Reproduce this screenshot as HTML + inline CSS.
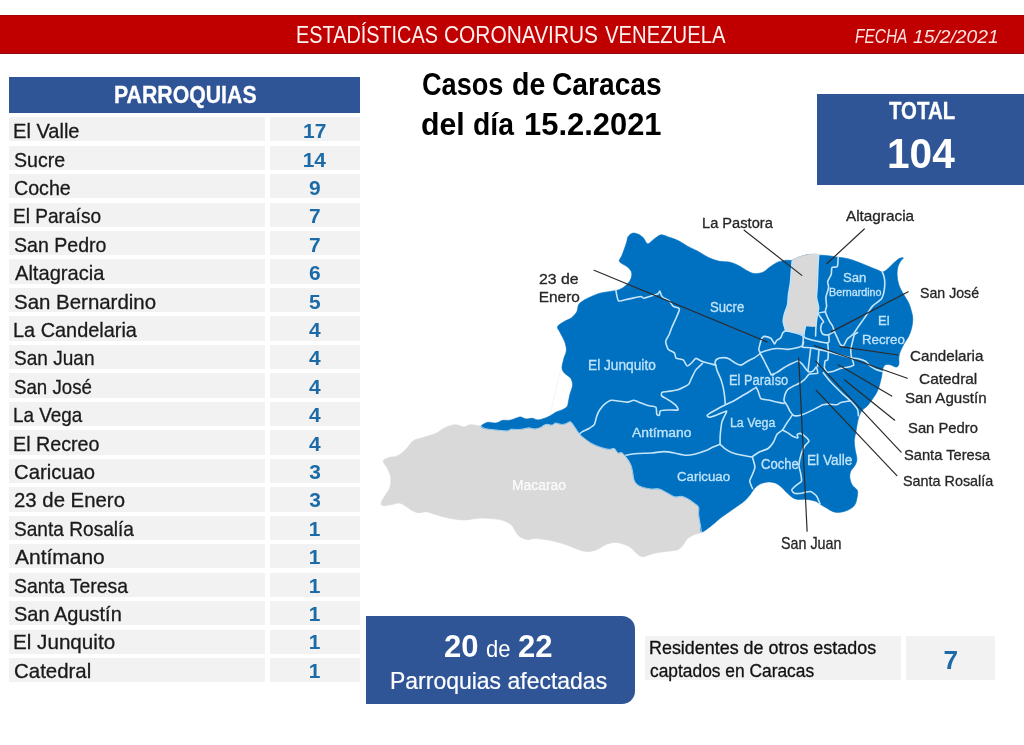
<!DOCTYPE html>
<html lang="es"><head><meta charset="utf-8"><title>Estadísticas Coronavirus Venezuela</title>
<style>
html,body{margin:0;padding:0;background:#fff;}
body{width:1024px;height:745px;position:relative;overflow:hidden;font-family:"Liberation Sans", sans-serif;}
.b{position:absolute;}
.th{background:#2f5597;}
.rw{height:24.3px;background:#f2f2f2;}
.c1{left:9px;width:255.6px;}
.c2{left:269.6px;width:90px;}
.t{position:absolute;white-space:nowrap;line-height:1;transform-origin:0 0;}
svg{position:absolute;left:0;top:0;}
</style></head>
<body>
<header id="header">
<div class="b" style="left:0;top:15px;width:1024px;height:38.7px;background:#c00000;box-sizing:border-box;border-top:1px solid #ac0005;border-bottom:1px solid #8a0a10"></div>
<div class="t" style="font-size:24.27px;font-weight:400;font-style:normal;color:#fff1ef;left:296.12px;top:23.31px;transform:scaleX(0.8182);">ESTADÍSTICAS</div>
<div class="t" style="font-size:24.27px;font-weight:400;font-style:normal;color:#fff1ef;left:444.22px;top:23.36px;transform:scaleX(0.8612);">CORONAVIRUS</div>
<div class="t" style="font-size:24.27px;font-weight:400;font-style:normal;color:#fff1ef;left:605.34px;top:23.31px;transform:scaleX(0.8347);">VENEZUELA</div>
<div class="t" style="font-size:19.33px;font-weight:400;font-style:italic;color:#fde3df;left:854.85px;top:26.64px;transform:scaleX(0.8000);">FECHA</div>
<div class="t" style="font-size:18.46px;font-weight:400;font-style:italic;color:#fde3df;left:913.48px;top:28.17px;transform:scaleX(1.0437);">15/2/2021</div>
</header>
<section id="titulo">
<div class="t" style="font-size:31.1px;font-weight:700;font-style:normal;color:#000000;left:422.31px;top:68.87px;transform:scaleX(0.8727);">Casos</div>
<div class="t" style="font-size:31.1px;font-weight:700;font-style:normal;color:#000000;left:511.99px;top:68.67px;transform:scaleX(0.9176);">de</div>
<div class="t" style="font-size:31.1px;font-weight:700;font-style:normal;color:#000000;left:551.82px;top:68.87px;transform:scaleX(0.9063);">Caracas</div>
<div class="t" style="font-size:31.1px;font-weight:700;font-style:normal;color:#000000;left:421.38px;top:108.97px;transform:scaleX(0.9735);">del</div>
<div class="t" style="font-size:31.1px;font-weight:700;font-style:normal;color:#000000;left:473.26px;top:108.97px;transform:scaleX(0.9097);">día</div>
<div class="t" style="font-size:31.1px;font-weight:700;font-style:normal;color:#000000;left:524.31px;top:108.97px;transform:scaleX(0.9941);">15.2.2021</div>
</section>
<section id="total">
<div class="b" style="left:817.4px;top:94px;width:206.6px;height:90.6px;background:#2f5597"></div>
<div class="t" style="font-size:23.4px;font-weight:700;font-style:normal;color:#ffffff;-webkit-text-stroke:0.3px #ffffff;left:888.58px;top:99.59px;transform:scaleX(0.8722);">TOTAL</div>
<div class="t" style="font-size:42.59px;font-weight:700;font-style:normal;color:#ffffff;left:887.38px;top:131.85px;transform:scaleX(0.9544);">104</div>
</section>
<section id="tabla">
<div class="b th" style="left:9px;top:76.8px;width:350.6px;height:35.8px"></div>
<div class="b rw c1" style="top:117.10px"></div><div class="b rw c2" style="top:117.10px"></div>
<div class="b rw c1" style="top:145.57px"></div><div class="b rw c2" style="top:145.57px"></div>
<div class="b rw c1" style="top:174.04px"></div><div class="b rw c2" style="top:174.04px"></div>
<div class="b rw c1" style="top:202.51px"></div><div class="b rw c2" style="top:202.51px"></div>
<div class="b rw c1" style="top:230.98px"></div><div class="b rw c2" style="top:230.98px"></div>
<div class="b rw c1" style="top:259.45px"></div><div class="b rw c2" style="top:259.45px"></div>
<div class="b rw c1" style="top:287.92px"></div><div class="b rw c2" style="top:287.92px"></div>
<div class="b rw c1" style="top:316.39px"></div><div class="b rw c2" style="top:316.39px"></div>
<div class="b rw c1" style="top:344.86px"></div><div class="b rw c2" style="top:344.86px"></div>
<div class="b rw c1" style="top:373.33px"></div><div class="b rw c2" style="top:373.33px"></div>
<div class="b rw c1" style="top:401.80px"></div><div class="b rw c2" style="top:401.80px"></div>
<div class="b rw c1" style="top:430.27px"></div><div class="b rw c2" style="top:430.27px"></div>
<div class="b rw c1" style="top:458.74px"></div><div class="b rw c2" style="top:458.74px"></div>
<div class="b rw c1" style="top:487.21px"></div><div class="b rw c2" style="top:487.21px"></div>
<div class="b rw c1" style="top:515.68px"></div><div class="b rw c2" style="top:515.68px"></div>
<div class="b rw c1" style="top:544.15px"></div><div class="b rw c2" style="top:544.15px"></div>
<div class="b rw c1" style="top:572.62px"></div><div class="b rw c2" style="top:572.62px"></div>
<div class="b rw c1" style="top:601.09px"></div><div class="b rw c2" style="top:601.09px"></div>
<div class="b rw c1" style="top:629.56px"></div><div class="b rw c2" style="top:629.56px"></div>
<div class="b rw c1" style="top:658.03px"></div><div class="b rw c2" style="top:658.03px"></div>
<div class="t" style="font-size:23.26px;font-weight:700;font-style:normal;color:#ffffff;-webkit-text-stroke:0.3px #ffffff;left:113.63px;top:83.51px;transform:scaleX(0.9147);">PARROQUIAS</div>
<div class="t" style="font-size:20.78px;font-weight:400;font-style:normal;color:#1a1a1a;-webkit-text-stroke:0.3px #1a1a1a;left:13.31px;top:120.61px;transform:scaleX(0.9660);">El Valle</div>
<div class="t" style="font-size:20.93px;font-weight:700;font-style:normal;color:#1c6ba6;left:303.10px;top:120.58px;">17</div>
<div class="t" style="font-size:20.78px;font-weight:400;font-style:normal;color:#1a1a1a;-webkit-text-stroke:0.3px #1a1a1a;left:13.72px;top:149.61px;transform:scaleX(0.9435);">Sucre</div>
<div class="t" style="font-size:20.93px;font-weight:700;font-style:normal;color:#1c6ba6;left:302.67px;top:149.68px;">14</div>
<div class="t" style="font-size:20.78px;font-weight:400;font-style:normal;color:#1a1a1a;-webkit-text-stroke:0.3px #1a1a1a;left:14.02px;top:178.41px;transform:scaleX(0.9459);">Coche</div>
<div class="t" style="font-size:20.93px;font-weight:700;font-style:normal;color:#1c6ba6;left:309.07px;top:177.68px;">9</div>
<div class="t" style="font-size:20.78px;font-weight:400;font-style:normal;color:#1a1a1a;-webkit-text-stroke:0.3px #1a1a1a;left:13.39px;top:205.81px;transform:scaleX(0.9190);">El Paraíso</div>
<div class="t" style="font-size:20.93px;font-weight:700;font-style:normal;color:#1c6ba6;left:308.98px;top:205.78px;">7</div>
<div class="t" style="font-size:20.78px;font-weight:400;font-style:normal;color:#1a1a1a;-webkit-text-stroke:0.3px #1a1a1a;left:13.72px;top:235.01px;transform:scaleX(0.9423);">San Pedro</div>
<div class="t" style="font-size:20.93px;font-weight:700;font-style:normal;color:#1c6ba6;left:308.97px;top:235.08px;">7</div>
<div class="t" style="font-size:20.78px;font-weight:400;font-style:normal;color:#1a1a1a;-webkit-text-stroke:0.3px #1a1a1a;left:15.00px;top:262.61px;transform:scaleX(0.9680);">Altagracia</div>
<div class="t" style="font-size:20.93px;font-weight:700;font-style:normal;color:#1c6ba6;left:309.10px;top:262.58px;">6</div>
<div class="t" style="font-size:20.78px;font-weight:400;font-style:normal;color:#1a1a1a;-webkit-text-stroke:0.3px #1a1a1a;left:13.63px;top:291.61px;transform:scaleX(0.9846);">San Bernardino</div>
<div class="t" style="font-size:20.93px;font-weight:700;font-style:normal;color:#1c6ba6;left:308.91px;top:291.68px;">5</div>
<div class="t" style="font-size:20.78px;font-weight:400;font-style:normal;color:#1a1a1a;-webkit-text-stroke:0.3px #1a1a1a;left:13.06px;top:320.41px;transform:scaleX(0.9584);">La Candelaria</div>
<div class="t" style="font-size:20.93px;font-weight:700;font-style:normal;color:#1c6ba6;left:308.91px;top:320.48px;">4</div>
<div class="t" style="font-size:20.78px;font-weight:400;font-style:normal;color:#1a1a1a;-webkit-text-stroke:0.3px #1a1a1a;left:14.08px;top:347.81px;transform:scaleX(0.9181);">San Juan</div>
<div class="t" style="font-size:20.93px;font-weight:700;font-style:normal;color:#1c6ba6;left:308.98px;top:347.78px;">4</div>
<div class="t" style="font-size:20.78px;font-weight:400;font-style:normal;color:#1a1a1a;-webkit-text-stroke:0.3px #1a1a1a;left:13.82px;top:377.01px;transform:scaleX(0.8991);">San José</div>
<div class="t" style="font-size:20.93px;font-weight:700;font-style:normal;color:#1c6ba6;left:308.91px;top:377.08px;">4</div>
<div class="t" style="font-size:20.78px;font-weight:400;font-style:normal;color:#1a1a1a;-webkit-text-stroke:0.3px #1a1a1a;left:13.41px;top:404.61px;transform:scaleX(0.9101);">La Vega</div>
<div class="t" style="font-size:20.93px;font-weight:700;font-style:normal;color:#1c6ba6;left:308.98px;top:404.58px;">4</div>
<div class="t" style="font-size:20.78px;font-weight:400;font-style:normal;color:#1a1a1a;-webkit-text-stroke:0.3px #1a1a1a;left:13.49px;top:433.81px;transform:scaleX(0.9480);">El Recreo</div>
<div class="t" style="font-size:20.93px;font-weight:700;font-style:normal;color:#1c6ba6;left:308.91px;top:433.68px;">4</div>
<div class="t" style="font-size:20.78px;font-weight:400;font-style:normal;color:#1a1a1a;-webkit-text-stroke:0.3px #1a1a1a;left:13.94px;top:462.41px;transform:scaleX(0.9760);">Caricuao</div>
<div class="t" style="font-size:20.93px;font-weight:700;font-style:normal;color:#1c6ba6;left:309.24px;top:461.78px;">3</div>
<div class="t" style="font-size:20.78px;font-weight:400;font-style:normal;color:#1a1a1a;-webkit-text-stroke:0.3px #1a1a1a;left:14.02px;top:489.81px;transform:scaleX(0.9807);">23 de Enero</div>
<div class="t" style="font-size:20.93px;font-weight:700;font-style:normal;color:#1c6ba6;left:309.23px;top:489.78px;">3</div>
<div class="t" style="font-size:20.78px;font-weight:400;font-style:normal;color:#1a1a1a;-webkit-text-stroke:0.3px #1a1a1a;left:13.78px;top:519.01px;transform:scaleX(0.9197);">Santa Rosalía</div>
<div class="t" style="font-size:20.93px;font-weight:700;font-style:normal;color:#1c6ba6;left:308.65px;top:519.08px;">1</div>
<div class="t" style="font-size:20.78px;font-weight:400;font-style:normal;color:#1a1a1a;-webkit-text-stroke:0.3px #1a1a1a;left:15.00px;top:546.61px;transform:scaleX(1.0102);">Antímano</div>
<div class="t" style="font-size:20.93px;font-weight:700;font-style:normal;color:#1c6ba6;left:308.73px;top:546.58px;">1</div>
<div class="t" style="font-size:20.78px;font-weight:400;font-style:normal;color:#1a1a1a;-webkit-text-stroke:0.3px #1a1a1a;left:13.74px;top:575.61px;transform:scaleX(0.9347);">Santa Teresa</div>
<div class="t" style="font-size:20.93px;font-weight:700;font-style:normal;color:#1c6ba6;left:308.65px;top:575.68px;">1</div>
<div class="t" style="font-size:20.78px;font-weight:400;font-style:normal;color:#1a1a1a;-webkit-text-stroke:0.3px #1a1a1a;left:13.68px;top:604.41px;transform:scaleX(0.9622);">San Agustín</div>
<div class="t" style="font-size:20.93px;font-weight:700;font-style:normal;color:#1c6ba6;left:308.65px;top:604.48px;">1</div>
<div class="t" style="font-size:20.78px;font-weight:400;font-style:normal;color:#1a1a1a;-webkit-text-stroke:0.3px #1a1a1a;left:13.26px;top:631.81px;transform:scaleX(0.9940);">El Junquito</div>
<div class="t" style="font-size:20.93px;font-weight:700;font-style:normal;color:#1c6ba6;left:308.73px;top:631.78px;">1</div>
<div class="t" style="font-size:20.78px;font-weight:400;font-style:normal;color:#1a1a1a;-webkit-text-stroke:0.3px #1a1a1a;left:13.92px;top:661.01px;transform:scaleX(0.9842);">Catedral</div>
<div class="t" style="font-size:20.93px;font-weight:700;font-style:normal;color:#1c6ba6;left:308.65px;top:661.08px;">1</div>
</section>
<section id="mapa">
<svg width="1024" height="745" viewBox="0 0 1024 745">
<path d="M481.0,426.2C478.5,425.6 473.1,424.6 470.2,424.7C467.3,424.8 466.3,426.9 463.8,426.9C461.3,426.9 458.4,424.5 455.2,424.7C452.0,424.9 447.6,426.5 444.4,427.9C441.2,429.3 439.5,431.7 435.9,433.3C432.3,434.9 426.8,436.4 423.0,437.6C419.2,438.9 416.2,438.8 413.3,440.8C410.4,442.8 408.5,446.9 405.8,449.4C403.1,451.9 400.1,454.5 397.2,455.9C394.3,457.3 390.9,456.7 388.6,457.6C386.3,458.5 383.4,459.4 383.2,461.2C383.0,463.0 386.2,466.0 387.5,468.7C388.8,471.4 390.3,474.1 390.7,477.3C391.1,480.5 390.8,484.9 389.7,488.1C388.6,491.3 385.7,494.2 384.3,496.7C382.9,499.2 381.3,501.6 381.1,503.1C380.9,504.6 381.6,505.4 383.2,505.7C384.8,506.0 388.0,505.2 390.7,504.8C393.4,504.4 396.8,502.9 399.3,503.1C401.8,503.4 403.7,505.1 405.8,506.3C407.9,507.6 410.1,509.5 412.2,510.6C414.3,511.7 416.4,512.6 418.7,512.8C421.0,513.0 423.7,511.5 426.2,511.7C428.7,511.9 430.7,513.0 433.7,513.9C436.7,514.8 440.8,516.2 444.4,517.1C448.0,518.0 451.6,518.7 455.2,519.2C458.8,519.7 462.0,520.1 465.9,519.9C469.8,519.7 474.5,518.4 478.8,518.2C483.1,518.0 487.8,518.2 491.7,518.6C495.6,519.0 499.2,519.3 502.4,520.3C505.6,521.3 508.9,522.8 511.0,524.6C513.1,526.4 513.9,529.0 515.3,531.0C516.7,533.0 517.6,535.0 519.6,536.4C521.6,537.8 524.7,539.2 527.2,539.6C529.7,540.0 531.7,538.6 534.7,538.6C537.7,538.6 541.8,539.1 545.4,539.6C549.0,540.1 552.5,540.9 556.1,541.8C559.7,542.7 563.3,543.8 566.9,545.0C570.5,546.2 574.4,548.2 577.6,549.3C580.8,550.4 583.3,551.3 586.2,551.5C589.1,551.7 592.5,551.0 594.8,550.4C597.1,549.8 598.1,549.0 600.0,548.0C601.9,547.0 603.9,545.2 606.4,544.3C608.9,543.4 612.3,542.5 615.2,542.5C618.1,542.5 621.3,543.4 623.9,544.3C626.5,545.2 629.0,546.3 631.0,547.8C633.0,549.2 634.5,551.5 636.2,553.0C638.0,554.5 639.7,556.1 641.5,556.6C643.3,557.1 644.4,556.3 646.8,555.7C649.1,555.1 652.1,553.7 655.6,553.0C659.1,552.3 664.1,551.9 667.9,551.3C671.7,550.7 675.8,550.7 678.4,549.5C681.0,548.3 682.2,546.0 683.7,544.3C685.2,542.5 685.4,540.6 687.2,539.0C689.0,537.4 691.9,535.8 694.3,534.6C696.7,533.4 700.6,533.6 701.6,532.0C702.6,530.4 700.9,527.8 700.4,524.9C699.9,522.0 699.0,517.3 698.7,514.4C698.4,511.5 699.3,509.1 698.7,507.3C698.1,505.5 696.7,505.1 695.1,503.8C693.5,502.5 691.2,500.6 689.0,499.4C686.8,498.2 684.4,496.8 682.0,496.4C679.6,496.0 677.2,497.3 674.9,496.8C672.5,496.3 670.5,494.6 667.9,493.3C665.3,492.0 662.0,489.6 659.1,488.9C656.2,488.2 653.5,489.3 650.3,488.9C647.1,488.4 642.4,487.5 639.8,486.2C637.2,484.9 635.7,483.3 634.5,481.0C633.3,478.7 633.3,474.8 632.7,472.2C632.1,469.6 631.9,467.4 631.0,465.2C630.1,463.0 629.0,461.1 627.5,459.0C626.0,456.9 623.8,453.9 622.2,452.9C620.6,451.9 619.1,453.6 617.8,452.9C616.5,452.2 615.8,449.1 614.3,448.5C612.8,447.9 611.4,449.6 609.0,449.3C606.6,449.1 602.8,448.0 599.9,447.0C597.0,446.0 594.2,444.9 591.7,443.5C589.2,442.1 587.0,440.4 584.9,438.8C582.8,437.2 581.0,435.8 579.4,434.0C577.8,432.2 576.5,429.6 575.3,427.8C574.0,426.0 572.8,424.0 571.9,423.0C571.0,422.0 570.8,421.6 569.8,421.7C568.8,421.8 567.1,423.2 565.7,423.7C564.3,424.1 563.3,424.5 561.6,424.4C559.9,424.3 557.1,422.9 555.5,423.0C553.9,423.1 553.6,424.9 552.0,425.1C550.4,425.3 547.9,423.9 545.9,424.4C543.9,424.8 541.6,427.1 539.7,427.8C537.8,428.6 536.1,428.9 534.3,428.9C532.5,428.9 530.8,427.8 528.8,427.8C526.8,427.9 524.0,428.9 522.0,429.2C520.0,429.5 518.3,429.5 516.5,429.5C514.7,429.5 512.5,429.0 511.0,429.2C509.5,429.4 509.5,430.6 507.6,430.8C505.7,431.0 502.0,430.5 499.4,430.3C496.8,430.1 494.3,429.8 491.9,429.5C489.5,429.2 486.8,429.1 485.0,428.5C483.2,427.9 483.5,426.8 481.0,426.2Z" fill="#d9d9d9" stroke="#d9d9d9" stroke-width="0.6" stroke-linejoin="round"/>
<path d="M481.0,426.2C481.5,425.2 485.3,422.8 487.8,422.3C490.3,421.8 493.5,423.3 496.0,423.0C498.5,422.7 500.5,420.8 502.8,420.3C505.1,419.9 507.3,420.7 509.6,420.3C511.9,419.9 514.7,418.6 516.5,418.0C518.3,417.4 519.0,416.8 520.6,416.9C522.2,417.0 524.2,418.7 526.1,418.9C528.0,419.1 530.3,418.0 532.2,418.2C534.1,418.4 535.8,419.8 537.7,419.9C539.6,419.9 541.6,419.2 543.8,418.5C546.0,417.8 548.7,416.6 550.7,415.5C552.8,414.4 554.1,413.1 556.1,412.1C558.1,411.1 561.2,410.3 563.0,409.4C564.8,408.5 566.2,407.9 567.1,406.6C568.0,405.3 567.9,403.9 568.4,401.8C568.9,399.8 569.2,397.0 569.9,394.3C570.6,391.6 572.4,388.1 572.5,385.5C572.6,382.9 572.1,380.4 570.8,378.4C569.5,376.3 566.1,374.9 564.6,373.2C563.1,371.4 562.1,370.2 562.0,367.9C561.9,365.5 563.0,362.0 563.7,359.1C564.4,356.2 566.2,353.2 566.4,350.3C566.5,347.4 565.6,344.4 564.6,341.5C563.6,338.6 561.4,335.2 560.2,332.7C559.0,330.2 556.9,328.5 557.6,326.6C558.3,324.7 562.3,322.8 564.6,321.3C566.9,319.8 569.6,319.4 571.6,317.8C573.6,316.2 575.7,313.8 576.9,311.6C578.1,309.4 577.5,306.5 578.7,304.6C579.9,302.7 581.9,301.5 583.9,300.2C585.9,298.9 588.4,297.9 591.0,296.7C593.6,295.5 596.6,294.1 599.8,293.2C603.0,292.3 607.1,292.0 610.3,291.4C613.5,290.8 616.5,290.7 619.1,289.7C621.7,288.7 624.2,287.1 626.1,285.3C628.0,283.5 629.9,281.0 630.8,278.9C631.7,276.8 632.0,274.6 631.6,272.7C631.2,270.8 629.9,269.1 628.1,267.5C626.4,265.9 622.6,264.3 621.1,263.1C619.6,261.9 619.1,261.7 619.3,260.4C619.4,259.1 620.8,258.1 622.0,255.2C623.2,252.3 625.4,246.0 626.4,242.9C627.4,239.8 627.1,238.3 628.1,236.7C629.1,235.1 630.9,233.6 632.5,233.2C634.1,232.8 636.0,233.4 637.8,234.1C639.6,234.8 641.5,236.0 643.1,237.6C644.7,239.2 645.9,243.3 647.5,243.7C649.1,244.1 651.0,241.4 652.7,240.2C654.5,238.9 656.4,237.1 658.0,236.2C659.6,235.3 660.4,234.7 662.4,234.9C664.4,235.1 667.5,236.6 670.3,237.6C673.1,238.6 676.2,239.6 679.1,241.1C682.0,242.6 684.7,244.7 687.9,246.4C691.1,248.2 694.9,249.7 698.4,251.6C701.9,253.5 705.5,256.2 709.0,257.8C712.5,259.4 716.0,260.6 719.5,261.3C723.0,262.0 726.9,261.5 730.1,262.2C733.3,262.9 736.0,264.2 738.9,265.7C741.8,267.2 745.1,269.7 747.7,271.0C750.3,272.3 752.1,273.5 754.7,273.6C757.3,273.8 760.9,273.1 763.5,271.9C766.1,270.7 768.1,268.2 770.5,266.6C772.9,265.0 775.2,263.2 777.6,262.2C780.0,261.2 782.3,260.7 784.6,260.4C786.9,260.1 790.1,260.5 791.6,260.4C793.1,260.2 791.6,260.2 793.4,259.5C795.2,258.8 799.3,256.9 802.2,256.0C805.1,255.1 808.4,254.4 811.0,254.3C813.6,254.2 816.4,255.0 818.0,255.2C819.6,255.3 818.6,255.1 820.6,255.2C822.6,255.3 827.4,255.7 830.3,256.0C833.2,256.4 835.3,256.9 838.2,257.3C841.1,257.8 844.5,257.9 847.9,258.7C851.3,259.5 854.9,260.9 858.4,262.2C861.9,263.5 865.8,265.3 869.0,266.6C872.2,267.9 875.5,269.2 877.8,270.1C880.1,271.0 881.2,272.2 883.0,271.9C884.8,271.6 886.5,269.8 888.3,268.3C890.1,266.8 891.8,264.7 893.6,263.1C895.4,261.5 897.3,259.6 898.9,258.7C900.5,257.8 903.0,257.4 903.3,257.8C903.6,258.2 901.5,259.8 900.6,261.3C899.7,262.8 898.6,264.4 898.0,266.6C897.4,268.8 897.0,271.4 897.1,274.5C897.2,277.6 897.9,281.8 898.9,285.0C899.9,288.2 901.7,290.9 903.3,293.8C904.9,296.7 907.1,299.7 908.5,302.6C909.9,305.5 910.8,308.7 911.5,311.4C912.2,314.1 912.8,316.1 912.8,318.9C912.8,321.7 912.3,325.3 911.6,328.3C910.9,331.3 909.8,334.1 908.5,336.7C907.2,339.3 905.4,341.3 904.1,343.7C902.8,346.1 901.5,348.6 900.6,350.8C899.7,353.0 899.2,354.7 898.9,356.9C898.6,359.1 899.3,362.2 898.9,363.9C898.5,365.6 897.7,367.0 896.2,367.1C894.7,367.2 891.9,365.2 890.1,364.8C888.4,364.4 886.9,364.2 885.7,364.8C884.5,365.4 883.7,366.1 883.0,368.3C882.3,370.5 882.2,374.3 881.3,378.0C880.4,381.7 879.3,386.8 877.8,390.3C876.3,393.8 874.3,396.5 872.5,399.1C870.7,401.7 869.0,404.2 867.2,406.1C865.5,408.0 863.3,408.9 862.0,410.5C860.7,412.1 860.0,413.9 859.3,415.8C858.6,417.7 858.2,419.2 857.6,422.0C857.0,424.8 856.3,429.4 855.8,432.5C855.2,435.6 854.4,437.7 854.3,440.5C854.2,443.3 854.7,446.2 855.1,449.3C855.5,452.4 856.9,456.4 856.9,459.0C856.9,461.6 856.1,463.1 855.1,465.2C854.1,467.2 851.6,469.1 850.7,471.3C849.8,473.5 849.6,476.0 849.9,478.3C850.2,480.6 851.2,483.3 852.5,485.4C853.8,487.4 856.7,488.4 857.4,490.6C858.1,492.8 857.4,496.1 856.9,498.6C856.4,501.1 855.8,503.7 854.3,505.6C852.8,507.5 850.5,508.9 848.1,510.0C845.8,511.1 842.7,512.0 840.2,512.3C837.7,512.6 835.4,512.4 833.2,511.7C831.0,511.0 829.0,509.4 827.0,508.2C825.0,507.0 822.8,505.9 820.9,504.7C819.0,503.5 818.0,502.1 815.6,501.2C813.2,500.3 809.7,499.7 806.8,499.4C803.9,499.1 800.4,499.7 798.0,499.4C795.6,499.1 794.5,498.7 792.7,497.7C791.0,496.7 789.5,495.2 787.5,493.3C785.5,491.4 782.6,488.0 780.4,486.2C778.2,484.4 776.3,483.4 774.3,482.7C772.2,482.0 770.3,481.8 768.1,481.9C765.9,482.0 763.3,482.6 761.1,483.6C758.9,484.6 756.7,486.2 754.9,488.0C753.1,489.8 752.1,492.1 750.5,494.2C748.9,496.2 747.3,498.4 745.3,500.3C743.2,502.2 740.9,503.7 738.2,505.6C735.6,507.5 732.3,509.6 729.4,511.7C726.5,513.8 723.8,515.4 720.6,517.9C717.4,520.4 713.3,524.4 710.1,526.7C706.9,529.1 703.2,532.3 701.6,532.0C700.0,531.7 700.9,527.8 700.4,524.9C699.9,522.0 699.0,517.3 698.7,514.4C698.4,511.5 699.3,509.1 698.7,507.3C698.1,505.5 696.7,505.1 695.1,503.8C693.5,502.5 691.2,500.6 689.0,499.4C686.8,498.2 684.4,496.8 682.0,496.4C679.6,496.0 677.2,497.3 674.9,496.8C672.5,496.3 670.5,494.6 667.9,493.3C665.3,492.0 662.0,489.6 659.1,488.9C656.2,488.2 653.5,489.3 650.3,488.9C647.1,488.4 642.4,487.5 639.8,486.2C637.2,484.9 635.7,483.3 634.5,481.0C633.3,478.7 633.3,474.8 632.7,472.2C632.1,469.6 631.9,467.4 631.0,465.2C630.1,463.0 629.0,461.1 627.5,459.0C626.0,456.9 623.8,453.9 622.2,452.9C620.6,451.9 619.1,453.6 617.8,452.9C616.5,452.2 615.8,449.1 614.3,448.5C612.8,447.9 611.4,449.6 609.0,449.3C606.6,449.1 602.8,448.0 599.9,447.0C597.0,446.0 594.2,444.9 591.7,443.5C589.2,442.1 587.0,440.4 584.9,438.8C582.8,437.2 581.0,435.8 579.4,434.0C577.8,432.2 576.5,429.6 575.3,427.8C574.0,426.0 572.8,424.0 571.9,423.0C571.0,422.0 570.8,421.6 569.8,421.7C568.8,421.8 567.1,423.2 565.7,423.7C564.3,424.1 563.3,424.5 561.6,424.4C559.9,424.3 557.1,422.9 555.5,423.0C553.9,423.1 553.6,424.9 552.0,425.1C550.4,425.3 547.9,423.9 545.9,424.4C543.9,424.8 541.6,427.1 539.7,427.8C537.8,428.6 536.1,428.9 534.3,428.9C532.5,428.9 530.8,427.8 528.8,427.8C526.8,427.9 524.0,428.9 522.0,429.2C520.0,429.5 518.3,429.5 516.5,429.5C514.7,429.5 512.5,429.0 511.0,429.2C509.5,429.4 509.5,430.6 507.6,430.8C505.7,431.0 502.0,430.5 499.4,430.3C496.8,430.1 494.3,429.8 491.9,429.5C489.5,429.2 486.8,429.1 485.0,428.5C483.2,427.9 480.5,427.2 481.0,426.2Z" fill="#0070c0" stroke="#0070c0" stroke-width="0.6" stroke-linejoin="round"/>
<path d="M792.5,260.4C792.6,260.2 792.2,260.1 793.4,259.5C794.6,258.9 800.0,256.6 802.2,256.0C804.4,255.3 809.0,254.4 811.0,254.3C813.0,254.2 817.2,252.9 818.0,255.2C818.8,257.5 817.3,268.8 817.1,272.7C816.9,276.6 816.8,283.7 816.6,286.8C816.5,289.9 815.7,294.7 815.9,297.3C816.1,299.9 818.0,305.3 818.0,307.9C818.0,310.5 816.5,316.1 816.2,318.4C815.9,320.7 816.8,325.3 815.4,326.3C814.0,327.3 806.9,325.3 805.4,326.3C803.9,327.3 804.2,333.7 803.6,334.6C803.0,335.5 801.4,333.8 800.4,333.5C799.4,333.2 797.5,333.0 795.7,332.6C793.9,332.2 787.6,331.6 786.1,330.3C784.6,329.0 783.9,323.9 783.7,322.0C783.5,320.1 784.1,317.1 784.6,314.9C785.1,312.7 787.6,307.0 788.1,304.4C788.6,301.8 788.7,296.4 789.0,293.8C789.3,291.2 790.5,285.9 790.8,283.3C791.1,280.7 791.4,275.4 791.6,272.7C791.8,269.9 792.4,262.8 792.5,261.3C792.6,259.8 792.4,260.6 792.5,260.4Z" fill="#d9d9d9" stroke="#d9d9d9" stroke-width="0.8"/>
<g fill="none" stroke="#c4e5fa" stroke-width="1.6" stroke-linejoin="round" stroke-linecap="round">
<path d="M481.0,426.2C481.7,426.6 483.2,427.9 485.0,428.5C486.8,429.1 489.5,429.2 491.9,429.5C494.3,429.8 496.8,430.1 499.4,430.3C502.0,430.5 505.7,431.0 507.6,430.8C509.5,430.6 509.5,429.4 511.0,429.2C512.5,429.0 514.7,429.5 516.5,429.5C518.3,429.5 520.0,429.5 522.0,429.2C524.0,428.9 526.8,427.9 528.8,427.8C530.8,427.8 532.5,428.9 534.3,428.9C536.1,428.9 537.8,428.6 539.7,427.8C541.6,427.1 543.9,424.8 545.9,424.4C547.9,423.9 550.4,425.3 552.0,425.1C553.6,424.9 553.9,423.1 555.5,423.0C557.1,422.9 559.9,424.3 561.6,424.4C563.3,424.5 564.3,424.1 565.7,423.7C567.1,423.2 568.8,421.8 569.8,421.7C570.8,421.6 571.0,422.0 571.9,423.0C572.8,424.0 574.0,426.0 575.3,427.8C576.5,429.6 577.8,432.2 579.4,434.0C581.0,435.8 582.8,437.2 584.9,438.8C587.0,440.4 589.2,442.1 591.7,443.5C594.2,444.9 597.0,446.0 599.9,447.0C602.8,448.0 606.6,449.1 609.0,449.3C611.4,449.6 612.8,447.9 614.3,448.5C615.8,449.1 616.5,452.2 617.8,452.9C619.1,453.6 620.6,451.9 622.2,452.9C623.8,453.9 626.0,456.9 627.5,459.0C629.0,461.1 630.1,463.0 631.0,465.2C631.9,467.4 632.1,469.6 632.7,472.2C633.3,474.8 633.3,478.7 634.5,481.0C635.7,483.3 637.2,484.9 639.8,486.2C642.4,487.5 647.1,488.4 650.3,488.9C653.5,489.3 656.2,488.2 659.1,488.9C662.0,489.6 665.3,492.0 667.9,493.3C670.5,494.6 672.5,496.3 674.9,496.8C677.2,497.3 679.6,496.0 682.0,496.4C684.4,496.8 686.8,498.2 689.0,499.4C691.2,500.6 693.5,502.5 695.1,503.8C696.7,505.1 698.1,505.5 698.7,507.3C699.3,509.1 698.4,511.5 698.7,514.4C699.0,517.3 699.9,522.0 700.4,524.9C700.9,527.8 701.4,530.8 701.6,532.0" stroke-width="0.9" opacity="0.85"/>
<path d="M615.8,289.9C616.1,291.0 617.3,300.0 618.5,300.9C619.7,301.8 625.9,299.5 628.1,299.1C630.3,298.7 638.8,296.6 640.4,296.5C642.0,296.4 642.8,298.3 644.0,298.2C645.2,298.1 651.3,296.0 652.7,295.6C654.1,295.2 657.3,294.2 658.0,293.8C658.7,293.4 659.4,291.0 659.8,291.2C660.1,291.4 661.1,294.9 661.5,295.6C661.9,296.3 663.4,297.7 664.2,298.2C665.0,298.7 668.5,300.1 669.4,300.9C670.3,301.7 672.1,305.4 673.0,306.1C673.9,306.8 677.6,307.6 678.2,307.9C678.8,308.2 679.6,308.5 679.4,309.5C679.2,310.5 677.0,316.0 676.2,317.8C675.4,319.6 672.5,325.8 671.8,327.5C671.1,329.2 669.8,333.1 669.2,334.5C668.6,335.9 665.8,340.0 665.7,341.5C665.6,343.0 667.3,348.2 668.2,349.3C669.1,350.4 673.6,352.0 674.4,352.9C675.2,353.8 675.2,357.4 676.1,358.1C677.0,358.8 682.1,359.1 683.2,359.9C684.3,360.7 686.3,365.7 687.2,366.0C688.1,366.3 691.1,363.3 692.0,362.5C692.9,361.7 695.0,358.5 696.0,358.4C697.0,358.3 701.1,361.1 702.5,361.6C703.9,362.1 708.2,363.0 709.5,363.4C710.8,363.8 715.1,365.0 715.7,365.2"/>
<path d="M702.5,363.4C701.8,364.1 696.6,368.8 695.5,370.4C694.4,372.0 691.8,377.8 691.1,379.2C690.4,380.6 689.7,383.4 688.4,384.5C687.1,385.6 680.0,389.1 677.9,389.8C675.8,390.5 668.9,391.2 667.3,391.5C665.7,391.8 662.7,392.0 662.1,392.4C661.5,392.8 661.0,395.1 661.7,395.9C662.4,396.7 667.7,399.3 669.1,400.3C670.5,401.3 675.2,404.6 676.1,405.6C677.0,406.6 678.8,409.6 677.9,410.0C677.0,410.4 669.1,409.9 667.3,410.0C665.5,410.1 661.1,410.4 660.3,410.9C659.5,411.4 659.8,414.9 659.4,415.3C659.0,415.7 657.1,415.2 656.8,414.4C656.4,413.6 656.8,408.2 655.9,407.3C655.0,406.4 649.5,406.0 648.0,405.6C646.5,405.2 642.4,403.5 641.0,403.0C639.6,402.5 635.2,400.4 633.9,400.3C632.6,400.2 629.2,402.0 627.8,402.1C626.4,402.2 621.6,401.4 619.9,401.2C618.2,401.0 612.7,399.9 611.1,400.3C609.5,400.7 605.3,403.7 604.1,404.7C602.9,405.7 600.1,409.3 599.3,410.5C598.5,411.7 597.0,415.5 596.5,416.9C596.0,418.3 595.2,423.2 594.4,424.4C593.6,425.6 590.1,427.8 588.9,428.5C587.7,429.2 583.1,431.3 582.1,431.9C581.1,432.4 579.7,433.8 579.4,434.0"/>
<path d="M715.7,365.2C715.6,364.9 714.9,363.0 715.0,362.4C715.1,361.8 716.3,359.5 717.1,359.0C717.9,358.5 722.0,357.6 723.2,357.6C724.4,357.6 728.2,358.4 729.4,359.0C730.6,359.6 734.3,362.5 735.5,363.1C736.7,363.7 739.8,365.3 741.0,365.1C742.2,364.9 746.5,361.8 747.9,361.0C749.3,360.2 753.5,358.4 754.7,357.6C755.9,356.9 759.7,353.9 760.2,353.5"/>
<path d="M760.2,352.8C760.1,352.5 758.8,350.4 758.8,349.4C758.8,348.4 759.9,344.4 760.2,343.2C760.5,342.0 761.7,338.5 762.2,337.8C762.7,337.1 764.0,336.3 764.9,336.4C765.8,336.5 770.1,337.8 771.1,338.5C772.1,339.2 774.0,343.7 774.5,343.9C775.0,344.1 776.0,341.1 776.6,340.5C777.2,339.9 780.1,338.6 780.7,337.8C781.3,337.1 782.2,333.7 782.7,333.0C783.2,332.3 784.8,330.9 786.1,330.9C787.4,330.9 794.1,332.5 795.7,333.0C797.3,333.5 801.8,334.9 802.5,335.7C803.2,336.4 803.3,339.5 803.2,340.5C803.1,341.5 802.6,345.2 801.9,346.0C801.1,346.8 797.1,347.7 795.7,348.0C794.3,348.3 788.9,349.3 787.5,349.4C786.1,349.5 783.4,348.8 782.0,348.7C780.6,348.6 775.4,348.5 773.8,348.7C772.2,348.9 767.0,350.4 765.6,350.8C764.2,351.2 760.7,352.6 760.2,352.8"/>
<path d="M715.7,365.2C715.8,365.7 716.6,369.1 717.1,370.6C717.6,372.1 720.5,378.1 721.2,380.2C721.9,382.2 723.5,388.7 723.9,391.1C724.3,393.5 725.2,402.8 725.3,404.1"/>
<path d="M756.1,387.4C754.9,388.1 746.2,393.5 744.0,394.8C741.8,396.1 736.3,399.5 734.5,400.5C732.7,401.5 727.8,403.6 726.0,404.5C724.2,405.4 718.0,408.6 716.4,409.5C714.8,410.4 710.5,412.7 709.6,413.3C708.7,413.9 707.0,415.1 707.0,415.5C707.0,415.9 708.7,417.3 709.6,417.3C710.5,417.3 714.7,415.8 716.4,415.2C718.1,414.6 725.7,410.9 726.5,411.0C727.3,411.1 725.0,414.9 724.5,416.0C724.0,417.1 722.3,420.7 721.9,421.9C721.5,423.1 721.1,426.9 720.9,428.4C720.7,429.9 720.2,435.6 720.1,437.2C720.0,438.8 720.1,443.6 720.1,444.3"/>
<path d="M756.1,387.4C756.3,387.8 757.6,390.0 758.1,391.1C758.6,392.2 759.8,397.7 760.8,398.6C761.8,399.5 766.8,399.7 768.4,400.0C770.0,400.3 775.0,401.7 776.6,402.0C778.2,402.3 783.4,403.3 784.1,403.4"/>
<path d="M626.0,455.2C627.1,455.0 635.0,453.7 637.5,453.5C640.0,453.3 648.9,453.2 651.5,453.0C654.1,452.8 661.5,451.6 663.8,451.6C666.1,451.6 672.3,452.6 674.4,453.0C676.5,453.4 682.8,455.1 684.9,455.2C687.0,455.3 693.4,454.5 695.5,454.0C697.6,453.5 704.2,451.3 706.0,450.6C707.8,449.9 711.6,447.6 713.0,447.0C714.4,446.4 719.4,444.6 720.1,444.3"/>
<path d="M720.1,444.3C720.7,444.8 724.6,448.4 725.9,449.3C727.2,450.2 731.1,452.3 732.9,452.9C734.7,453.5 741.6,455.1 743.5,455.5C745.4,455.9 750.4,456.9 751.4,457.0C752.4,457.1 752.4,456.5 753.2,456.0C754.0,455.5 757.8,452.8 759.3,452.0C760.8,451.2 766.7,449.5 768.1,448.5C769.5,447.5 772.5,443.7 773.4,442.3C774.3,440.9 776.0,435.6 776.9,434.4C777.8,433.2 781.5,431.1 782.5,430.0C783.5,428.9 785.4,425.2 786.4,423.7C787.4,422.2 791.9,415.8 792.5,414.9"/>
<path d="M752.3,456.8C752.6,457.8 754.9,465.1 754.9,466.9C754.9,468.7 752.8,473.4 752.3,474.8C751.8,476.2 749.7,479.6 749.7,481.0C749.7,482.4 752.2,487.8 752.5,488.5"/>
<path d="M782.5,430.0C783.0,430.3 786.5,432.0 787.5,432.6C788.5,433.2 791.7,435.7 792.7,436.2C793.8,436.7 797.6,438.1 798.0,437.9C798.4,437.7 796.8,434.8 797.1,434.4C797.4,434.0 799.6,433.1 800.6,433.5C801.6,433.9 806.0,437.1 806.8,437.9C807.6,438.7 809.1,440.6 808.9,441.4C808.7,442.2 805.7,444.7 805.0,445.8C804.3,446.9 802.1,451.0 801.5,452.9C800.9,454.8 799.0,463.2 798.9,465.2C798.8,467.2 800.3,471.5 800.6,473.1C800.9,474.7 801.9,479.8 801.5,481.0C801.1,482.2 797.2,484.5 796.2,485.4C795.2,486.3 792.0,489.0 791.8,489.8C791.6,490.6 793.5,492.9 794.5,493.3C795.5,493.7 799.9,493.5 801.5,493.3C803.1,493.1 808.8,491.2 810.3,491.5C811.8,491.8 815.5,494.7 816.5,495.9C817.5,497.1 819.6,503.0 820.0,503.8"/>
<path d="M771.1,374.7C771.6,374.5 775.2,373.4 776.6,372.6C778.0,371.9 783.2,368.1 784.8,367.2C786.4,366.2 791.7,363.7 793.0,363.1C794.3,362.5 796.8,360.9 797.8,361.0C798.8,361.1 801.6,363.5 802.5,364.4C803.4,365.3 805.9,369.1 806.6,369.9C807.3,370.7 808.7,371.9 809.4,372.0C810.1,372.1 812.8,371.1 813.5,370.6C814.2,370.1 815.8,366.9 816.2,367.2C816.6,367.5 818.3,372.6 817.6,373.3C816.9,374.0 810.6,373.4 809.4,374.0C808.2,374.6 806.1,378.0 805.3,378.8C804.5,379.6 802.4,381.4 801.2,382.2C800.0,382.9 794.4,385.6 793.0,386.3C791.6,387.1 788.3,388.8 787.5,389.7C786.7,390.6 785.1,394.1 784.8,395.2C784.5,396.3 783.8,399.6 784.1,400.7C784.4,401.8 786.9,405.0 787.5,406.1C788.1,407.2 789.5,410.6 790.2,411.6C790.9,412.6 793.2,415.4 794.3,415.7C795.4,416.0 799.7,415.4 801.2,415.0C802.7,414.6 807.8,412.4 809.4,411.6C811.0,410.9 816.2,408.2 817.6,407.5C819.0,406.8 821.9,405.1 823.0,404.8C824.1,404.5 827.1,404.1 828.5,404.1C829.9,404.1 835.5,404.9 836.7,404.8C837.9,404.7 839.6,403.0 840.9,402.6C842.2,402.2 848.7,401.1 849.6,400.9"/>
<path d="M760.2,353.5C760.6,354.2 763.5,359.4 764.3,361.0C765.1,362.6 767.7,367.8 768.4,369.2C769.1,370.6 770.8,374.1 771.1,374.7"/>
<path d="M801.9,346.5C802.0,346.6 802.0,347.0 803.1,347.2C804.2,347.4 810.2,347.7 812.7,348.1C815.2,348.5 825.2,351.0 827.7,351.6C830.2,352.2 835.0,353.7 837.3,354.3C839.6,354.9 848.4,357.4 850.5,357.8C852.6,358.2 856.9,358.3 858.4,358.7C859.9,359.1 864.3,360.6 865.5,361.3C866.7,362.0 869.0,365.2 870.0,366.0C871.0,366.8 874.8,368.9 876.0,369.5C877.2,370.1 881.9,371.3 882.5,371.5"/>
<path d="M810.7,348.7C810.4,350.9 808.3,368.4 808.0,370.6"/>
<path d="M819.0,350.1C818.9,351.7 817.7,364.9 817.6,366.5"/>
<path d="M827.7,342.9C827.8,343.8 828.3,350.3 828.3,352.0C828.3,353.7 828.1,358.8 827.8,359.7C827.5,360.6 825.4,360.2 825.1,361.0C824.8,361.8 824.2,366.7 824.4,367.9C824.6,369.1 826.9,372.1 827.2,372.6"/>
<path d="M857.6,332.5C857.3,332.7 854.9,333.7 854.3,334.8C853.7,335.9 852.4,342.2 852.0,343.7C851.6,345.2 850.9,348.3 850.8,349.6C850.7,350.9 851.1,355.2 851.4,356.7C851.7,358.2 854.1,363.9 853.7,365.0C853.3,366.1 848.6,366.9 847.2,367.3C845.9,367.7 841.5,368.1 840.2,368.5C838.9,368.9 835.6,370.5 834.3,370.9C833.0,371.3 827.9,372.4 827.2,372.6"/>
<path d="M823.3,372.7C824.0,373.6 828.4,379.4 830.3,381.5C832.2,383.6 840.5,391.8 842.6,393.8C844.7,395.8 849.9,400.1 851.4,401.7C852.9,403.3 856.9,408.3 857.6,409.7C858.3,411.1 858.3,415.2 858.4,415.8"/>
<path d="M838.2,257.3C838.1,258.2 837.9,265.6 837.3,266.6C836.7,267.6 832.6,266.7 832.0,267.5C831.4,268.3 831.6,273.1 831.2,274.5C830.8,275.9 828.0,280.2 827.7,281.5C827.4,282.8 828.8,286.1 828.6,287.7C828.4,289.3 826.1,295.5 825.9,297.3C825.7,299.1 826.6,304.4 826.6,305.9C826.6,307.3 825.1,310.3 825.4,311.8C825.7,313.3 828.8,319.9 829.5,321.3C830.2,322.7 832.0,325.0 832.5,326.0C833.0,327.0 833.8,330.0 834.3,331.3C834.8,332.6 837.2,337.6 837.8,339.0C838.4,340.4 840.1,344.2 840.7,344.9C841.3,345.5 843.1,346.1 843.7,345.5C844.4,344.9 846.3,340.1 847.2,339.0C848.1,337.9 852.0,335.5 853.1,334.3C854.2,333.1 856.8,328.7 857.9,327.2C859.0,325.7 862.7,320.4 863.8,318.9C864.9,317.4 867.6,313.1 868.5,311.8C869.4,310.5 871.2,307.4 872.5,306.1C873.8,304.8 880.2,300.5 881.3,299.1C882.4,297.7 883.5,293.7 883.9,292.1C884.2,290.5 884.8,284.9 884.8,283.3C884.8,281.7 884.2,277.3 883.9,276.2C883.6,275.1 882.4,272.3 882.2,271.9"/>
<path d="M825.4,311.8C824.7,312.0 818.5,312.6 818.3,313.6C818.1,314.6 823.2,320.8 823.6,321.8C824.0,322.8 822.1,322.8 821.8,323.6C821.5,324.4 820.6,328.4 820.7,329.5C820.8,330.6 822.2,333.8 823.0,334.3C823.8,334.8 827.2,335.1 828.3,334.8C829.4,334.5 833.7,331.7 834.3,331.3"/>
<path d="M818.6,255.2C818.5,256.9 817.8,269.5 817.7,272.7C817.6,275.9 817.3,284.3 817.2,286.8C817.1,289.3 816.4,295.2 816.5,297.3C816.6,299.4 818.6,305.8 818.6,307.9C818.6,310.0 817.1,316.6 816.8,318.4C816.5,320.2 816.1,324.5 816.0,326.3C815.9,328.1 815.6,335.0 815.6,336.0"/>
<path d="M805.4,326.3C805.3,327.4 802.6,335.9 804.8,337.6C807.0,339.3 825.3,343.0 827.7,342.9C830.1,342.8 828.8,337.4 828.9,336.6C829.0,335.8 828.4,335.0 828.3,334.8"/>
<path d="M803.6,342.0C803.5,342.5 802.5,346.2 802.4,346.7"/>
<path d="M792.2,261.3C792.1,262.4 791.4,270.5 791.2,272.7C791.0,274.9 790.7,281.2 790.4,283.3C790.1,285.4 788.9,291.7 788.6,293.8C788.3,295.9 788.1,302.3 787.7,304.4C787.3,306.5 784.6,313.1 784.2,314.9C783.8,316.7 783.1,320.4 783.3,322.0C783.4,323.6 785.5,329.6 785.7,330.5"/>
</g>
<line x1="559.8" y1="373" x2="549.8" y2="416" stroke="#dfe6ee" stroke-width="0.8" stroke-dasharray="1.2 1"/>
<g stroke="#2b2b2b" stroke-width="1.2" stroke-linecap="round">
<line x1="594.1" y1="270.3" x2="767" y2="341.9"/>
<line x1="744.2" y1="230.2" x2="801.8" y2="275.4"/>
<line x1="864.3" y1="229" x2="827" y2="263.5"/>
<line x1="908.2" y1="291.8" x2="831.3" y2="331.9"/>
<line x1="840.2" y1="346.7" x2="898" y2="355"/>
<line x1="814.2" y1="345.5" x2="907.3" y2="378.2"/>
<line x1="838.2" y1="364.8" x2="891.7" y2="396.1"/>
<line x1="844.4" y1="379.8" x2="894.7" y2="420.2"/>
<line x1="815.9" y1="361.3" x2="901.1" y2="452.1"/>
<line x1="816.2" y1="390.3" x2="896.9" y2="475.6"/>
<line x1="798.7" y1="357.8" x2="807.1" y2="531.1"/>
</g>
</svg>
<div class="t" style="font-size:14.83px;font-weight:400;font-style:normal;color:#262626;-webkit-text-stroke:0.3px #262626;left:702.17px;top:215.65px;transform:scaleX(0.9872);">La Pastora</div>
<div class="t" style="font-size:15.12px;font-weight:400;font-style:normal;color:#262626;-webkit-text-stroke:0.3px #262626;left:846.34px;top:208.00px;transform:scaleX(1.0126);">Altagracia</div>
<div class="t" style="font-size:15.41px;font-weight:400;font-style:normal;color:#262626;-webkit-text-stroke:0.3px #262626;left:539.23px;top:270.86px;transform:scaleX(1.0270);">23 de</div>
<div class="t" style="font-size:15.41px;font-weight:400;font-style:normal;color:#262626;-webkit-text-stroke:0.3px #262626;left:538.75px;top:289.26px;">Enero</div>
<div class="t" style="font-size:15.41px;font-weight:400;font-style:normal;color:#262626;-webkit-text-stroke:0.3px #262626;left:920.21px;top:285.16px;transform:scaleX(0.9195);">San José</div>
<div class="t" style="font-size:15.41px;font-weight:400;font-style:normal;color:#262626;-webkit-text-stroke:0.3px #262626;left:910.26px;top:347.86px;transform:scaleX(0.9844);">Candelaria</div>
<div class="t" style="font-size:15.12px;font-weight:400;font-style:normal;color:#262626;-webkit-text-stroke:0.3px #262626;left:919.13px;top:370.70px;transform:scaleX(1.0208);">Catedral</div>
<div class="t" style="font-size:15.26px;font-weight:400;font-style:normal;color:#262626;-webkit-text-stroke:0.3px #262626;left:904.62px;top:389.68px;transform:scaleX(0.9925);">San Agustín</div>
<div class="t" style="font-size:15.12px;font-weight:400;font-style:normal;color:#262626;-webkit-text-stroke:0.3px #262626;left:908.05px;top:420.00px;transform:scaleX(0.9800);">San Pedro</div>
<div class="t" style="font-size:14.97px;font-weight:400;font-style:normal;color:#262626;-webkit-text-stroke:0.3px #262626;left:903.88px;top:448.33px;transform:scaleX(0.9799);">Santa Teresa</div>
<div class="t" style="font-size:15.12px;font-weight:400;font-style:normal;color:#262626;-webkit-text-stroke:0.3px #262626;left:903.39px;top:472.80px;transform:scaleX(0.9507);">Santa Rosalía</div>
<div class="t" style="font-size:15.99px;font-weight:400;font-style:normal;color:#262626;-webkit-text-stroke:0.3px #262626;left:780.90px;top:535.86px;transform:scaleX(0.8958);">San Juan</div>
<div class="t" style="font-size:13.81px;font-weight:400;font-style:normal;color:#bfe4fb;-webkit-text-stroke:0.3px #bfe4fb;left:709.92px;top:300.71px;transform:scaleX(0.9496);">Sucre</div>
<div class="t" style="font-size:13.23px;font-weight:400;font-style:normal;color:#bfe4fb;-webkit-text-stroke:0.3px #bfe4fb;left:843.00px;top:270.80px;transform:scaleX(0.9955);">San</div>
<div class="t" style="font-size:10.17px;font-weight:400;font-style:normal;color:#bfe4fb;-webkit-text-stroke:0.3px #bfe4fb;left:829.21px;top:287.89px;transform:scaleX(1.0577);">Bernardino</div>
<div class="t" style="font-size:13.37px;font-weight:400;font-style:normal;color:#bfe4fb;-webkit-text-stroke:0.3px #bfe4fb;left:877.63px;top:314.18px;transform:scaleX(0.9700);">El</div>
<div class="t" style="font-size:12.79px;font-weight:400;font-style:normal;color:#bfe4fb;-webkit-text-stroke:0.3px #bfe4fb;left:862.16px;top:334.17px;transform:scaleX(1.0390);">Recreo</div>
<div class="t" style="font-size:13.95px;font-weight:400;font-style:normal;color:#bfe4fb;-webkit-text-stroke:0.3px #bfe4fb;left:588.09px;top:358.99px;transform:scaleX(0.9836);">El Junquito</div>
<div class="t" style="font-size:13.81px;font-weight:400;font-style:normal;color:#bfe4fb;-webkit-text-stroke:0.3px #bfe4fb;left:728.82px;top:373.71px;transform:scaleX(0.9312);">El Paraíso</div>
<div class="t" style="font-size:13.23px;font-weight:400;font-style:normal;color:#bfe4fb;-webkit-text-stroke:0.3px #bfe4fb;left:632.02px;top:425.60px;transform:scaleX(1.0518);">Antímano</div>
<div class="t" style="font-size:12.5px;font-weight:400;font-style:normal;color:#bfe4fb;-webkit-text-stroke:0.3px #bfe4fb;left:729.61px;top:416.62px;transform:scaleX(0.9889);">La Vega</div>
<div class="t" style="font-size:13.52px;font-weight:400;font-style:normal;color:#bfe4fb;-webkit-text-stroke:0.3px #bfe4fb;left:676.86px;top:470.06px;transform:scaleX(0.9820);">Caricuao</div>
<div class="t" style="font-size:13.95px;font-weight:400;font-style:normal;color:#bfe4fb;-webkit-text-stroke:0.3px #bfe4fb;left:760.79px;top:457.99px;transform:scaleX(0.9385);">Coche</div>
<div class="t" style="font-size:14.1px;font-weight:400;font-style:normal;color:#bfe4fb;-webkit-text-stroke:0.3px #bfe4fb;left:806.99px;top:453.26px;transform:scaleX(0.9698);">El Valle</div>
<div class="t" style="font-size:13.95px;font-weight:400;font-style:normal;color:#fbfbfb;-webkit-text-stroke:0.25px #fbfbfb;left:512.25px;top:478.79px;transform:scaleX(0.9943);">Macarao</div>
</section>
<section id="afectadas">
<div class="b" style="left:366px;top:615.6px;width:269px;height:88.4px;background:#2f5597;border-radius:0 13px 13px 0"></div>
<div class="t" style="font-size:31.83px;font-weight:700;font-style:normal;color:#ffffff;left:443.93px;top:631.26px;transform:scaleX(0.9758);">20</div>
<div class="t" style="font-size:23.4px;font-weight:400;font-style:normal;color:#ffffff;left:485.96px;top:638.49px;transform:scaleX(0.9417);">de</div>
<div class="t" style="font-size:31.83px;font-weight:700;font-style:normal;color:#ffffff;left:517.73px;top:631.36px;transform:scaleX(0.9758);">22</div>
<div class="t" style="font-size:23.26px;font-weight:400;font-style:normal;color:#ffffff;-webkit-text-stroke:0.2px #ffffff;left:389.82px;top:669.71px;transform:scaleX(0.9882);">Parroquias afectadas</div>
</section>
<section id="residentes">
<div class="b" style="left:645.3px;top:636px;width:255.3px;height:44.4px;background:#f2f2f2"></div>
<div class="b" style="left:905.6px;top:636px;width:89.8px;height:44.4px;background:#f2f2f2"></div>
<div class="t" style="font-size:17.73px;font-weight:400;font-style:normal;color:#111111;-webkit-text-stroke:0.3px #111111;left:648.81px;top:639.79px;transform:scaleX(1.0112);">Residentes de otros estados</div>
<div class="t" style="font-size:17.73px;font-weight:400;font-style:normal;color:#111111;-webkit-text-stroke:0.3px #111111;left:649.89px;top:663.19px;transform:scaleX(0.9801);">captados en Caracas</div>
<div class="t" style="font-size:26.16px;font-weight:700;font-style:normal;color:#1c6ba6;left:943.42px;top:646.86px;">7</div>
</section>
</body></html>
